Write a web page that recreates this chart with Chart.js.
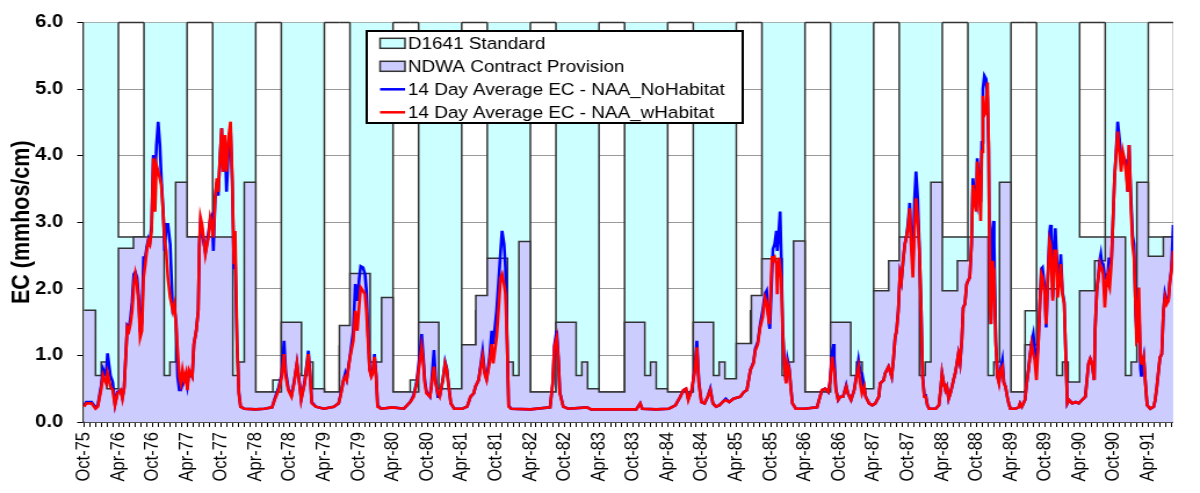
<!DOCTYPE html>
<html><head><meta charset="utf-8">
<script src="https://cdn.jsdelivr.net/npm/chart.js@4.4.1/dist/chart.umd.min.js"></script>
<style>
html,body{margin:0;padding:0;background:#fff;overflow:hidden;}
#wrap{position:absolute;left:0;top:0;width:1034px;height:493px;transform:scaleX(1.1605);transform-origin:0 0;}
</style></head>
<body><div id="wrap"><canvas id="c"></canvas></div>
<script>
// ---- tick labels (every 6 months, month index 0 = Oct-75) ----
const tickLabels = ['Oct-75','Apr-76','Oct-76','Apr-77','Oct-77','Apr-78','Oct-78','Apr-79','Oct-79','Apr-80','Oct-80','Apr-81','Oct-81','Apr-82','Oct-82','Apr-83','Oct-83','Apr-84','Oct-84','Apr-85','Oct-85','Apr-86','Oct-86','Apr-87','Oct-87','Apr-88','Oct-88','Apr-89','Oct-89','Apr-90','Oct-90','Apr-91'];

// value used where no D1641 standard applies (above the axis)
const NO_STD = 6.5;
const H = NO_STD;
// ---- D1641 standard: start month of each step and its value ----
const d1641Start = [0,6,10.47,18,22.47, 30,33,34.47, 42,44.63,46.47, 54,57,58.47, 66,68.47,70.47, 78,82.47, 90,94.47, 102,106.47, 114,116.47,118.47, 126,130.47, 138,140.47,142.47, 150,154.47, 162,164.47,166.47, 174,178.47, 186,190.47];
const d1641Value = [H,2.78,H,2.78,H, 0.45,0.63,H, 0.45,1.14,H, 0.45,0.63,H, 0.45,1.67,H, 0.45,H, 0.45,H, 0.45,H, 0.45,1.67,H, 0.45,H, 0.45,1.67,H, 2.78,H, 0.45,1.67,H, 2.78,H, 2.78,H];

// ---- NDWA contract provision steps ----
const ndwaStart = [0,2,3,4,6,8.63,14,15,16,18,26,27,28,30,34.47,38,39,40,42,44.63,46.47,50,52,54,58.47,62,66,68.47,70.47,74,75,76,78,82.47,86,87,88,90,94.47,98,99,100,102,106.47,110,111,112,114,116.63,118.47,122,123,124,126,130.47,134,135,136,138,140.63,142.47,146,147,148,150,152.63,154.47,158,159,160,162,164.47,166.47,170,171,172,174,176.63,178.47,182,183,184,186,188.63];
const ndwaValue = [1.68,0.70,0.90,0.50,2.61,2.78,0.70,0.90,3.60,2.78,0.70,0.90,3.60,0.45,1.50,0.70,0.90,0.50,0.45,1.45,2.23,0.90,1.87,0.45,1.50,0.50,1.16,1.90,2.46,0.90,0.70,2.71,0.45,1.50,0.70,0.90,0.50,0.45,1.50,0.70,0.90,0.50,0.45,1.50,0.70,0.90,0.65,1.18,1.90,2.45,0.70,0.90,2.72,0.45,1.50,0.70,0.90,0.50,1.97,2.42,2.78,0.70,0.90,3.60,1.97,2.42,2.78,0.70,0.90,3.60,0.45,1.16,2.00,0.70,0.90,0.60,1.97,2.42,2.78,0.70,0.90,3.60,2.49,2.78];
const SERIES_END = 192;

// ---- 14-day average EC (months since Oct-75) ----
const ecMonth = [0,0.4,1.3,2,2.4,3,3.3,3.85,4.1,4.6,5,5.4,5.85,6.4,6.7,7,7.55,7.85,8.1,8.4,8.7,8.95,9.25,9.55,9.8,10.1,10.4,10.7,10.95,11.25,11.5,11.8,12.1,12.4,12.65,12.95,13.25,13.5,13.8,14.1,14.35,14.65,15.05,15.5,15.8,16.1,16.35,16.65,16.9,17.2,17.5,17.8,18.05,18.35,18.9,19.2,19.6,19.95,20.15,20.35,20.6,20.9,21.2,21.5,21.75,22.05,22.35,22.6,22.9,23.2,23.45,23.75,24.05,24.3,24.6,24.9,25.3,25.6,25.9,26.2,26.4,26.75,27.05,27.35,28,30,31.5,32.85,33.4,34,34.55,34.95,35.25,35.7,36.25,36.7,37.2,37.7,37.95,38.55,39.2,39.55,39.8,40.5,41.9,43.65,44.5,44.8,45.35,45.65,45.9,46.5,47.05,47.4,47.75,48.1,48.35,48.75,49.1,49.35,49.6,49.9,50.2,50.45,50.75,51.05,51.3,51.9,53.9,55.9,57,57.6,58.15,58.7,59,59.3,59.55,59.85,60.45,60.7,61.15,61.45,61.85,62.15,62.7,63.1,63.4,63.65,64.1,64.7,66.1,66.95,67.55,68.1,68.4,68.95,69.65,70,70.35,70.85,71.25,71.5,72.1,72.5,72.8,73.05,73.4,73.65,73.95,74.2,74.65,78,81.45,81.9,82.2,82.6,82.9,83.15,83.75,84.6,87.9,88.6,92,96.5,97.2,97.55,100,102.2,103.35,104.2,104.75,105.2,105.6,106.2,106.75,107.1,107.45,107.9,108.45,109,109.45,109.9,110.45,111,111.6,112.15,112.75,113.5,114.7,115.3,115.85,116.45,117,117.3,117.75,118.15,118.6,119,119.3,119.45,119.75,119.85,120.25,120.4,120.7,121,121.15,121.45,121.65,121.85,122.1,122.4,122.7,122.95,123.25,123.55,123.8,124.4,125.8,128.1,128.95,129.5,130.05,130.35,130.75,131,131.1,131.4,131.8,132.2,132.65,133.2,133.5,134.05,134.6,135,135.35,135.65,135.95,136.35,136.6,137.2,137.75,138.3,138.9,139.15,139.75,140,140.3,140.6,141.15,141.45,141.75,142,142.3,142.6,142.85,143.15,143.45,143.7,144,144.3,144.55,144.85,145.15,145.4,145.7,146,146.3,146.55,146.85,147.1,147.4,147.7,148.85,149.4,149.7,149.95,150.25,150.55,150.8,151.1,151.4,151.7,151.95,152.25,152.55,152.8,153.1,153.4,153.65,153.95,154.25,154.5,154.8,155.1,155.35,155.65,155.95,156.1,156.4,156.7,156.9,157.1,157.35,157.65,157.9,158.1,158.2,158.4,158.5,158.8,158.95,159.05,159.35,159.65,159.9,160.2,160.5,160.75,161.05,161.35,161.6,161.9,162.75,163.35,163.6,163.9,164.45,164.75,165.05,165.3,165.6,165.9,166.15,166.45,166.75,167.05,167.3,167.5,167.9,168.15,168.45,168.75,168.9,169.05,169.3,169.6,169.75,169.9,170.15,170.45,170.7,171,171.3,171.6,171.85,172.15,172.7,173.3,173.85,174.4,175,175.55,175.85,176.15,176.55,176.7,177,177.25,177.55,177.7,177.85,178.1,178.4,178.7,178.95,179.15,179.25,179.55,179.8,180.1,180.4,180.65,180.95,181.25,181.55,181.8,182.1,182.4,182.65,182.95,183.25,183.5,183.8,183.95,184.1,184.35,184.65,184.8,184.95,185.2,185.5,185.8,186.35,186.95,187.2,187.5,187.8,188.05,188.35,188.65,188.9,189.2,189.5,189.75,190.05,190.35];

const ecWithHabitat = [0.23,0.28,0.28,0.20,0.23,0.50,0.70,0.58,0.73,0.53,0.48,0.25,0.43,0.48,0.35,0.50,1.42,1.37,1.47,1.67,2.07,2.22,2.07,1.77,1.27,1.37,2.17,2.37,2.57,2.72,2.67,2.87,3.96,3.16,3.86,3.76,3.66,3.56,3.17,2.72,2.57,2.17,1.87,1.67,1.77,1.42,1.07,0.68,0.58,0.78,0.63,0.73,0.48,0.78,0.68,1.17,1.37,1.67,2.67,3.07,2.97,2.77,2.52,2.67,2.77,3.07,2.97,2.77,3.36,3.66,3.46,3.96,4.41,3.76,4.31,3.76,4.31,4.51,3.66,2.37,2.87,1.17,0.43,0.23,0.20,0.19,0.20,0.22,0.35,0.48,0.68,1.02,0.68,0.48,0.38,0.58,0.88,0.53,0.33,0.58,1.02,0.63,0.28,0.23,0.20,0.23,0.28,0.38,0.63,0.68,0.63,0.98,1.22,1.67,1.37,1.77,2.02,1.97,1.92,1.67,1.27,0.78,0.68,0.73,0.98,0.68,0.23,0.20,0.22,0.20,0.30,0.38,0.58,0.93,1.12,0.88,0.58,0.43,0.38,0.53,0.83,0.58,0.43,0.38,0.63,0.88,0.78,0.58,0.28,0.20,0.20,0.23,0.38,0.43,0.53,0.63,0.98,0.73,0.63,0.88,1.17,0.88,1.27,1.77,2.17,2.22,2.07,1.92,1.17,0.23,0.20,0.19,0.22,0.58,1.12,1.27,0.93,0.43,0.23,0.20,0.22,0.19,0.19,0.19,0.28,0.20,0.19,0.20,0.25,0.38,0.48,0.50,0.33,0.48,0.78,1.12,0.58,0.30,0.28,0.38,0.48,0.28,0.23,0.25,0.30,0.33,0.30,0.35,0.38,0.45,0.48,0.78,0.88,1.07,1.17,1.42,1.57,1.87,1.80,1.67,1.47,1.60,2.49,2.42,2.47,2.37,1.92,2.47,2.30,2.17,1.37,0.83,0.58,0.88,0.78,0.48,0.28,0.20,0.20,0.22,0.48,0.50,0.45,0.58,0.98,0.80,0.78,0.48,0.33,0.38,0.38,0.53,0.43,0.33,0.48,0.68,0.83,0.58,0.43,0.53,0.38,0.28,0.25,0.28,0.38,0.58,0.63,0.73,0.78,0.83,0.68,0.93,1.27,1.37,1.67,2.22,2.12,2.42,2.67,2.77,2.91,3.21,2.67,2.17,2.91,3.36,3.06,2.57,1.67,0.68,0.38,0.38,0.25,0.20,0.20,0.25,0.48,0.73,0.58,0.48,0.53,0.35,0.43,0.53,0.63,0.73,0.88,1.02,0.88,1.22,1.72,1.77,2.07,2.12,2.17,2.67,3.56,3.31,3.16,3.91,3.56,3.02,4.06,4.90,4.61,4.66,5.10,4.16,2.91,1.67,1.47,2.42,2.30,2.17,1.17,0.68,0.58,0.78,0.83,0.58,0.53,0.38,0.28,0.20,0.20,0.22,0.28,0.23,0.33,0.58,0.78,0.97,1.17,1.02,0.93,0.63,1.12,1.77,2.22,2.17,1.92,1.47,2.17,2.72,2.67,2.67,1.82,2.57,2.57,2.57,1.87,2.07,2.37,1.92,1.77,0.93,0.28,0.33,0.28,0.30,0.28,0.33,0.38,0.88,0.95,0.88,0.63,1.37,1.97,2.17,2.37,2.32,2.32,2.22,1.72,2.12,2.22,2.05,2.02,2.37,2.96,3.66,4.06,4.36,4.06,3.76,4.06,3.96,3.76,3.46,4.16,3.26,2.67,2.47,1.67,1.20,1.22,2.02,0.93,0.88,0.88,0.97,0.58,0.25,0.20,0.23,0.33,0.53,0.78,0.97,1.02,1.67,1.87,1.77,1.82,2.07,2.27,2.57];

const ecNoHabitat = [0.25,0.30,0.30,0.22,0.25,0.55,0.80,0.70,1.03,0.70,0.60,0.27,0.45,0.48,0.37,0.52,1.45,1.42,1.55,1.80,2.22,2.25,2.17,1.85,1.35,1.50,2.47,2.47,2.62,2.75,2.70,2.95,4.01,3.60,4.16,4.51,4.16,3.66,3.20,2.57,2.97,2.97,2.67,1.67,1.70,1.47,0.68,0.48,0.48,0.58,0.60,0.70,0.55,0.75,0.68,1.17,1.37,1.67,2.67,3.00,2.90,2.70,2.55,2.70,2.85,3.05,3.10,2.57,3.36,3.60,3.40,3.96,4.41,3.76,4.30,3.46,4.20,4.40,3.60,2.30,2.50,1.10,0.45,0.23,0.20,0.19,0.20,0.22,0.37,0.52,0.72,1.22,0.75,0.50,0.40,0.60,0.88,0.55,0.35,0.60,1.07,0.65,0.30,0.23,0.20,0.23,0.28,0.40,0.63,0.73,0.65,1.00,1.37,2.07,1.82,2.17,2.34,2.32,2.22,1.97,1.37,0.80,0.70,0.75,1.02,0.70,0.25,0.20,0.22,0.20,0.30,0.40,0.62,1.02,1.32,0.95,0.62,0.45,0.38,0.55,1.08,0.62,0.38,0.38,0.63,0.90,0.80,0.60,0.28,0.20,0.20,0.23,0.38,0.43,0.53,0.63,1.06,0.75,0.65,0.95,1.37,1.17,1.67,2.17,2.57,2.87,2.67,2.32,1.20,0.25,0.20,0.19,0.22,0.58,1.15,1.37,0.95,0.45,0.23,0.20,0.22,0.19,0.19,0.19,0.28,0.20,0.19,0.20,0.25,0.38,0.48,0.50,0.35,0.48,0.80,1.22,0.60,0.30,0.28,0.38,0.50,0.28,0.23,0.25,0.30,0.35,0.30,0.35,0.38,0.45,0.48,0.78,0.90,1.10,1.20,1.45,1.67,1.92,1.97,1.77,1.45,1.40,2.30,2.60,2.67,2.87,2.57,2.90,3.16,2.47,1.42,0.85,0.60,0.93,0.80,0.50,0.28,0.20,0.20,0.22,0.48,0.50,0.45,0.60,1.05,1.17,0.95,0.50,0.33,0.38,0.38,0.55,0.43,0.33,0.48,0.70,0.93,0.75,0.73,0.53,0.38,0.28,0.25,0.28,0.38,0.58,0.63,0.73,0.78,0.83,0.68,0.93,1.27,1.37,1.67,2.22,2.12,2.42,2.67,2.77,2.97,3.29,2.80,2.37,3.36,3.76,3.36,2.60,1.70,0.70,0.40,0.40,0.25,0.20,0.20,0.25,0.48,0.73,0.58,0.48,0.53,0.35,0.43,0.53,0.63,0.73,0.88,1.02,0.88,1.22,1.72,1.77,2.07,2.12,2.17,2.67,3.66,3.35,3.26,3.96,3.60,3.30,4.20,5.00,5.20,5.15,4.86,4.10,3.00,1.67,1.47,2.90,3.02,2.67,1.20,0.68,0.60,0.80,0.93,0.60,0.53,0.38,0.28,0.20,0.20,0.22,0.28,0.23,0.33,0.58,0.78,0.97,1.20,1.32,1.10,0.88,1.15,1.77,2.30,2.32,2.00,1.42,2.20,2.85,2.96,2.75,1.87,2.70,2.91,2.60,2.27,2.10,2.52,1.95,1.80,0.95,0.28,0.33,0.28,0.30,0.28,0.33,0.38,0.88,0.95,0.88,0.63,1.37,1.97,2.17,2.45,2.52,2.40,2.37,2.17,2.15,2.25,2.47,2.40,2.40,2.96,3.66,4.10,4.51,4.26,3.96,3.91,3.96,3.91,3.46,4.16,3.40,2.80,2.67,1.60,1.37,1.50,1.77,0.80,0.68,0.85,0.97,0.58,0.25,0.20,0.23,0.33,0.53,0.78,0.97,1.02,1.67,1.92,1.80,1.82,2.10,2.30,2.96];

// ---- styling ----
const FONT = "'Liberation Sans', Arial, Helvetica, sans-serif";
const OUTLINE = '#333333';
const CYAN = '#ccffff', LAV = '#ccccff';

function stepPoints(starts, vals) {
  const pts = starts.map((s, i) => ({x: s, y: vals[i]}));
  pts.push({x: SERIES_END, y: vals[vals.length - 1]});
  return pts;
}
const lineData = vals => ecMonth.map((m, i) => ({x: m, y: vals[i]}));

// top edge of the white (standard) windows
const topEdgePlugin = {
  id: 'topEdge',
  afterDatasetsDraw(chart) {
    const {ctx, chartArea, scales} = chart;
    const yMax = scales.y.max;
    ctx.save();
    ctx.strokeStyle = OUTLINE; ctx.lineWidth = 1.5;
    for (let i = 0; i < d1641Start.length - 1; i++) {
      if (d1641Value[i] < yMax) {
        const x1 = scales.x.getPixelForValue(d1641Start[i]);
        const x2 = Math.min(scales.x.getPixelForValue(d1641Start[i + 1]), chartArea.right);
        const y = scales.y.getPixelForValue(yMax);
        ctx.beginPath(); ctx.moveTo(x1, y); ctx.lineTo(x2, y); ctx.stroke();
      }
    }
    ctx.restore();
  }
};

// legend box drawn inside the plot
const legendItems = [
  {label: 'D1641 Standard', kind: 'box', color: CYAN},
  {label: 'NDWA Contract Provision', kind: 'box', color: LAV},
  {label: '14 Day Average EC - NAA_NoHabitat', kind: 'line', color: '#0000ff'},
  {label: '14 Day Average EC - NAA_wHabitat', kind: 'line', color: '#ff0000'}
];
const legendPlugin = {
  id: 'boxLegend',
  afterDraw(chart) {
    const ctx = chart.ctx;
    const bx = 316, by = 31, bw = 324, bh = 92;
    ctx.save();
    ctx.fillStyle = '#fff'; ctx.fillRect(bx, by, bw, bh);
    ctx.strokeStyle = '#000'; ctx.lineWidth = 2; ctx.strokeRect(bx, by, bw, bh);
    ctx.font = '16.3px ' + FONT; ctx.textBaseline = 'middle'; ctx.fillStyle = '#000';
    legendItems.forEach((it, i) => {
      const cy = by + 12.3 + i * 23;
      if (it.kind === 'box') {
        ctx.fillStyle = it.color; ctx.fillRect(327.5, cy - 5, 21.5, 10);
        ctx.strokeStyle = OUTLINE; ctx.lineWidth = 1.5; ctx.strokeRect(327.5, cy - 5, 21.5, 10);
      } else {
        ctx.strokeStyle = it.color; ctx.lineWidth = 2.5;
        ctx.beginPath(); ctx.moveTo(327.5, cy); ctx.lineTo(349, cy); ctx.stroke();
      }
      ctx.fillStyle = '#000';
      ctx.fillText(it.label, 351.5, cy + 1);
    });
    ctx.restore();
  }
};

new Chart(document.getElementById('c'), {
  type: 'line',
  data: {
    datasets: [
      {label: '14 Day Average EC - NAA_wHabitat', data: lineData(ecWithHabitat), borderColor: '#ff0000', borderWidth: 2.6, pointRadius: 0, fill: false, tension: 0, order: 0},
      {label: '14 Day Average EC - NAA_NoHabitat', data: lineData(ecNoHabitat), borderColor: '#0000ff', borderWidth: 2.6, pointRadius: 0, fill: false, tension: 0, order: 1},
      {label: 'NDWA Contract Provision', data: stepPoints(ndwaStart, ndwaValue), stepped: 'before', fill: 'origin', backgroundColor: LAV, borderColor: OUTLINE, borderWidth: 1.5, pointRadius: 0, order: 2, clip: 0},
      {label: 'D1641 Standard', data: stepPoints(d1641Start, d1641Value), stepped: 'before', fill: 'origin', backgroundColor: CYAN, borderColor: OUTLINE, borderWidth: 1.5, pointRadius: 0, order: 3, clip: 0}
    ]
  },
  options: {
    responsive: true, maintainAspectRatio: false, animation: false,
    layout: {padding: {top: 20, right: 0, bottom: 0, left: 0}},
    plugins: {legend: {display: false}, tooltip: {enabled: false}},
    scales: {
      x: {
        type: 'linear', min: -0.19, max: 190.35,
        afterBuildTicks: s => { s.ticks = []; for (let m = 0; m <= 190; m++) s.ticks.push({value: m}); },
        ticks: {autoSkip: false, minRotation: 90, maxRotation: 90, padding: 5, color: '#000',
          font: {family: FONT, size: 16.5},
          callback: v => (v % 6 === 0 ? tickLabels[v / 6] : '')},
        grid: {drawOnChartArea: false, tickLength: 5, color: '#000', lineWidth: 1},
        border: {color: '#000', width: 1.5},
        afterFit: s => { s.height = 71; }
      },
      y: {
        min: 0, max: 6,
        ticks: {stepSize: 1, padding: 12, color: '#000', font: {family: FONT, size: 17.5, weight: 'bold'},
          callback: v => Number(v).toFixed(1)},
        grid: {color: '#999999', lineWidth: 1, tickLength: 5, tickColor: '#000'},
        border: {color: '#333', width: 1.5},
        title: {display: true, text: 'EC (mmhos/cm)', color: '#000', font: {family: FONT, size: 21.5, weight: 'bold'}, padding: {top: 6, bottom: 0}},
        afterFit: s => { s.width = 71.5; }
      }
    }
  },
  plugins: [topEdgePlugin, legendPlugin]
});
</script></body></html>
